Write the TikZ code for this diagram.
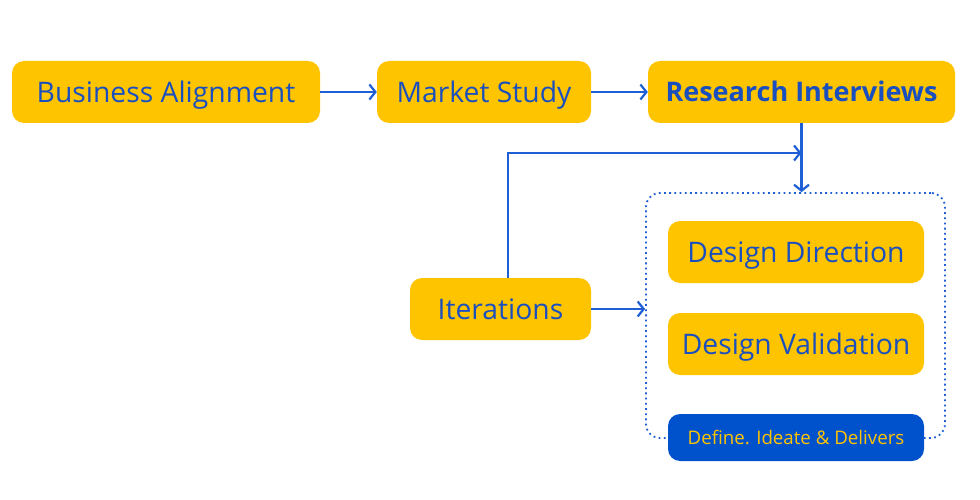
\documentclass[tikz,border=0pt]{standalone}
\usepackage{fontspec}
\setmainfont{Open Sans}
\usetikzlibrary{arrows,arrows.meta,positioning}
\definecolor{stepyellow}{HTML}{FFC400}
\definecolor{stepblue}{HTML}{1A4FBF}
\definecolor{linkblue}{HTML}{1F5FD6}
\definecolor{tagblue}{HTML}{0052CC}
\tikzset{
  stage/.style={
      rectangle,
      inner sep=0pt,
      rounded corners=12pt,
      minimum height=62pt,
      text height=20.2pt,
      text depth=0pt,
      fill=stepyellow,
      text=stepblue,
      font=\fontsize{28.3}{32}\selectfont
  },
  tag/.style={
      rectangle,
      inner sep=0pt,
      rounded corners=12pt,
      minimum width=256pt,
      minimum height=47pt,
      text height=13.4pt,
      text depth=0pt,
      fill=tagblue,
      text=stepyellow,
      font=\fontsize{18.7}{22}\selectfont
  },
  frame/.style={
      rectangle,
      rounded corners=14pt,
      draw=linkblue,
      line width=1.8pt,
      dash pattern=on 1.8pt off 3.4pt
  },
  link/.style={-{Straight Barb[length=6pt,width=15pt]},draw=linkblue,line width=2.2pt}
}

\begin{document}
\begin{tikzpicture}[x=1pt,y=-1pt]
    \useasboundingbox (0,0) rectangle (980,500);
    % group around the design steps
    \node[frame, minimum width=299pt, minimum height=245pt] (group) at (795.5,315.5) {};
    \node[stage, minimum width=308pt] (align) at (166,92) {Business Alignment};
    \node[stage, minimum width=214pt] (market) at (484,92) {Market Study};
    \node[stage, minimum width=307pt, text height=19.3pt, font=\fontsize{27}{32}\selectfont\bfseries] (interv) at (801.5,92) {Research Interviews};
    \node[stage, minimum width=181pt] (iter) at (500.5,309) {Iterations};
    \node[stage, minimum width=256pt] (direct) at (796,252) {Design Direction};
    \node[stage, minimum width=256pt] (valid) at (796,344) {Design Validation};
    \node[tag] (deliv) at (796,437.5) {Define. Ideate \& Delivers};
    \coordinate (join) at (interv.south |- 0,153);
    \draw[link] (align) -- (market);
    \draw[link] (market) -- (interv);
    \draw[link] (interv.south) -- (interv.south |- group.north);
    \draw[link] ([xshift=7.5pt]iter.north) |- (join);
    \draw[link] (iter) -- (iter -| group.west);
\end{tikzpicture}
\end{document}
